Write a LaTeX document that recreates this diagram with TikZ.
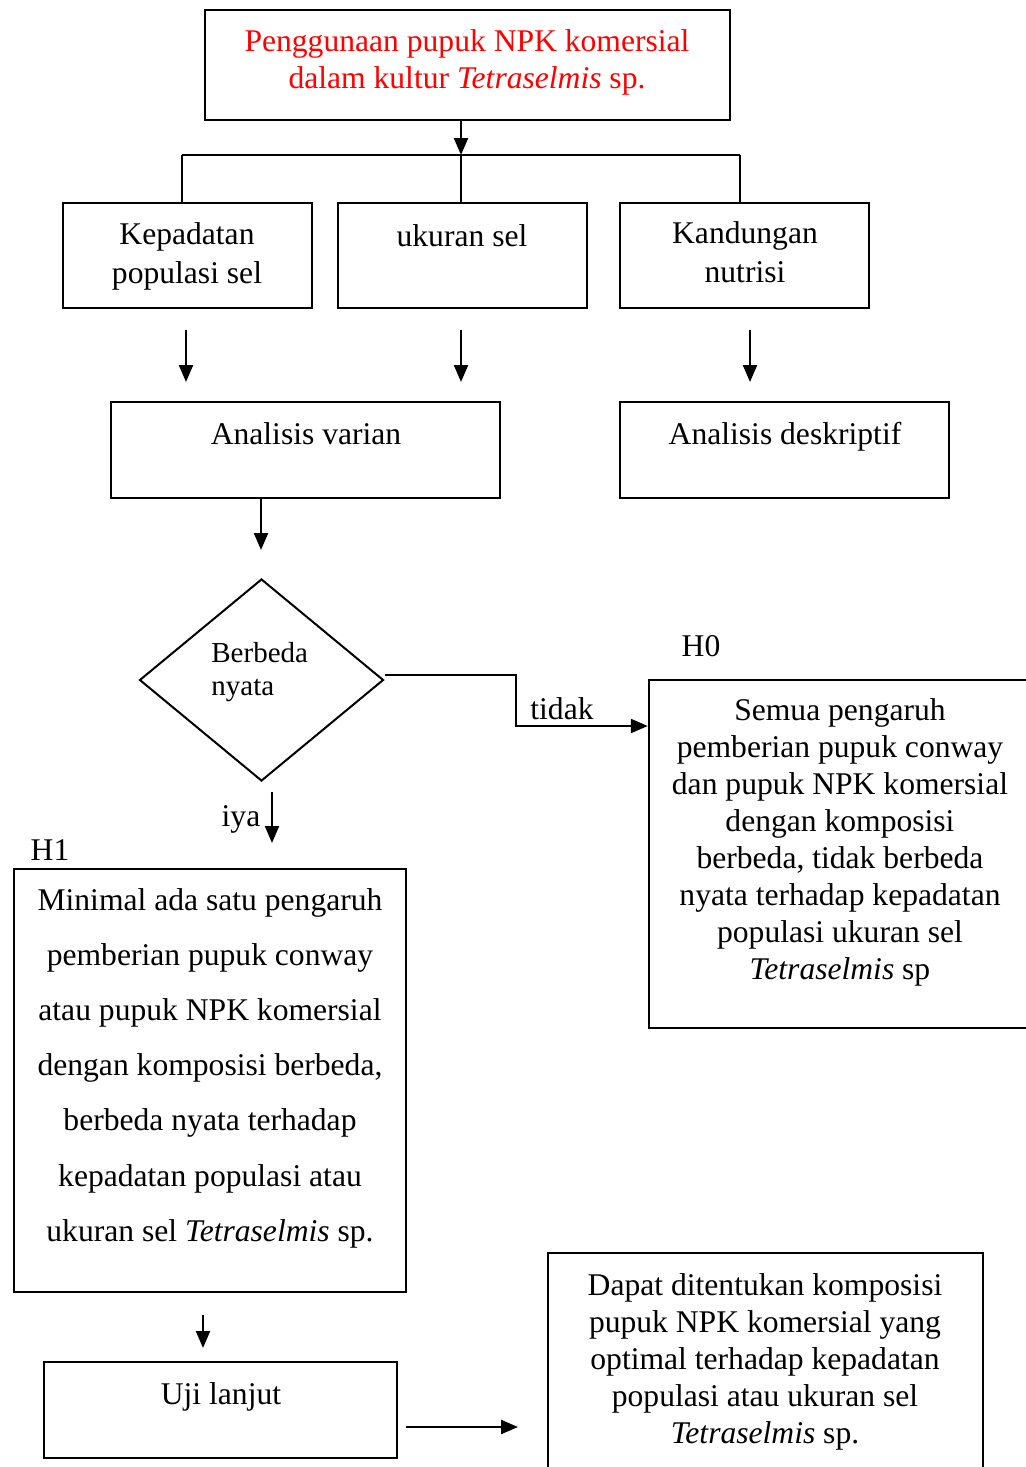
\documentclass[tikz,border=0pt]{standalone}
\usepackage{fontspec}
\setmainfont{Liberation Serif}
\usetikzlibrary{arrows.meta,fit,shapes.geometric,calc}
\definecolor{redtxt}{RGB}{255,0,0}
\begin{document}
\begin{tikzpicture}[x=0.5pt,y=-0.5pt,
  box/.style={draw, line width=1.2pt, inner sep=0pt},
  txt/.style={align=center, inner sep=0pt, font=\fontsize{15.8}{18.5}\selectfont},
  lbl/.style={inner sep=0pt, font=\fontsize{15.8}{18.5}\selectfont},
  arr/.style={line width=1.1pt, -{Triangle[length=8.5pt,width=7pt]}},
  ln/.style={line width=0.9pt}]
\useasboundingbox (0,0) rectangle (1026,1467);

% top box
\node[box, fit={(205,10) (730,120)}] (top) {};
\node[txt, text=redtxt] (toptxt) at (467,62) {Penggunaan pupuk NPK komersial\\dalam kultur \textit{Tetraselmis} sp.};

% splitter
\coordinate (hm) at (461,155);
\coordinate (hL) at (182,155);
\coordinate (hR) at (740,155);
\draw[arr] (top.south -| hm) -- (hm);
\draw[ln] (hL) -- (hR);

% row 2
\node[box, fit={(63,203) (312,308)}] (b1) {};
\node[box, fit={(338,203) (587,308)}] (b2) {};
\node[box, fit={(620,203) (869,308)}] (b3) {};
\node[txt, font=\fontsize{15.8}{19.5}\selectfont] (b1t) at (187,256) {Kepadatan\\populasi sel};
\node[txt] (b2t) at (462,236) {ukuran sel};
\node[txt, font=\fontsize{15.8}{19.5}\selectfont] (b3t) at (745,252.5) {Kandungan\\nutrisi};
\draw[ln] (hL) -- (hL |- b1.north);
\draw[ln] (hm) -- (hm |- b2.north);
\draw[ln] (hR) -- (hR |- b3.north);

% arrows to analysis
\coordinate (a1s) at (186,330); \coordinate (a1e) at (186,382);
\coordinate (a2s) at (461,330); \coordinate (a2e) at (461,382);
\coordinate (a3s) at (750,330); \coordinate (a3e) at (750,382);
\draw[arr] (a1s) -- (a1e);
\draw[arr] (a2s) -- (a2e);
\draw[arr] (a3s) -- (a3e);

% analysis boxes
\node[box, fit={(111,402) (500,498)}] (av) {};
\node[box, fit={(620,402) (949,498)}] (ad) {};
\node[txt] (avt) at (306,434) {Analisis varian};
\node[txt] (adt) at (785,437) {Analisis deskriptif};

% to diamond
\coordinate (a4e) at (261,550);
\draw[arr] (av.south -| a4e) -- (a4e);

% diamond
\node[draw, diamond, line width=1pt, inner sep=0pt, minimum width=122pt, minimum height=101pt] (dia) at (261.5,680) {};
\node[align=left, inner sep=0pt, anchor=west, font=\fontsize{14.5}{16.5}\selectfont] (diat) at (211,672.5) {Berbeda\\nyata};

% H0 box
\node[box, fit={(649,680) (1032,1028)}] (h0) {};
\node[txt] (h0t) at (840,842.5) {Semua pengaruh\\pemberian pupuk conway\\dan pupuk NPK komersial\\dengan komposisi\\berbeda, tidak berbeda\\nyata terhadap kepadatan\\populasi ukuran sel\\\textit{Tetraselmis} sp};
\node[lbl] (h0l) at (701,646) {H0};

% tidak path
\coordinate (t1) at (516,675);
\coordinate (t2) at (516,726);
\draw[arr] ($(dia.east)+(0,-5)$) -- (t1) -- (t2) -- (h0.west |- t2);
\node[lbl] (tl) at (562,709) {tidak};

% iya
\coordinate (i1) at (272,792); \coordinate (i2) at (272,843);
\draw[arr] (i1) -- (i2);
\node[lbl] (il) at (241,819) {iya};

% H1 box
\node[lbl] (h1l) at (50,850) {H1};
\node[box, fit={(14,869) (406,1292)}] (h1) {};
\node[txt, font=\fontsize{15.8}{27.6}\selectfont] (h1t) at (210,1068) {Minimal ada satu pengaruh\\pemberian pupuk conway\\atau pupuk NPK komersial\\dengan komposisi berbeda,\\berbeda nyata terhadap\\kepadatan populasi atau\\ukuran sel \textit{Tetraselmis} sp.};

% uji lanjut
\coordinate (u1) at (203,1315); \coordinate (u2) at (203,1348);
\draw[arr] (u1) -- (u2);
\node[box, fit={(44,1362) (397,1458)}] (uj) {};
\node[txt] (ujt) at (221,1397) {Uji lanjut};

% final
\node[box, fit={(548,1253) (983,1472)}] (fin) {};
\node[txt] (fint) at (765,1361.5) {Dapat ditentukan komposisi\\pupuk NPK komersial yang\\optimal terhadap kepadatan\\populasi atau ukuran sel\\\textit{Tetraselmis} sp.};
\coordinate (f1) at (406,1427); \coordinate (f2) at (518,1427);
\draw[arr] (f1) -- (f2);
\end{tikzpicture}
\end{document}
